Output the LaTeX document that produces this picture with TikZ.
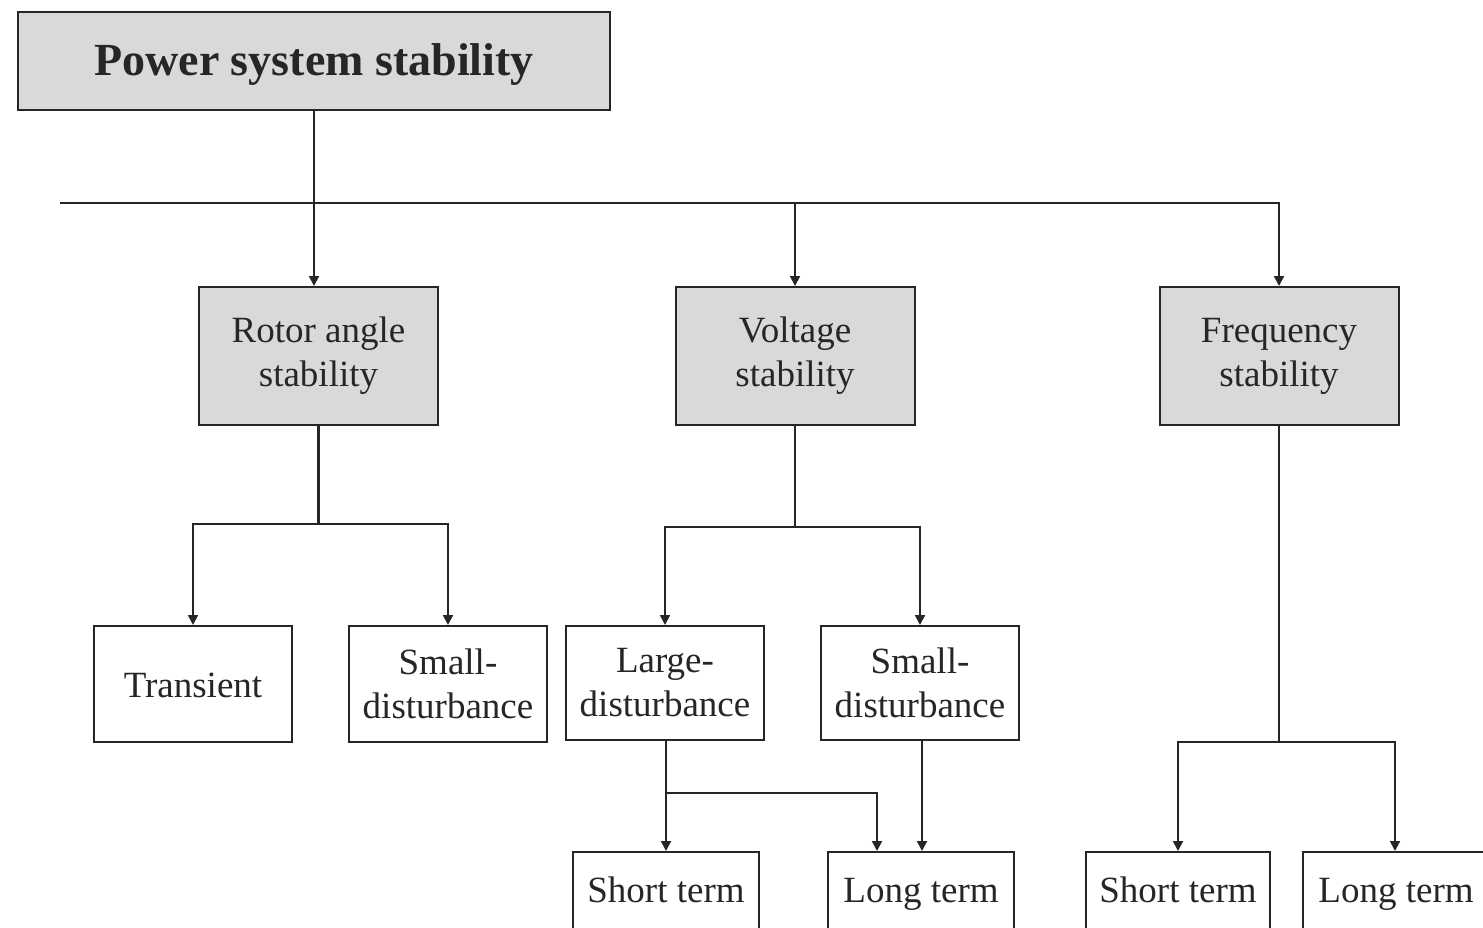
\documentclass[tikz,border=0pt]{standalone}
\usepackage{fontspec}
\setmainfont{Liberation Serif}
\usetikzlibrary{arrows.meta}
\definecolor{boxgray}{HTML}{D9D9D9}
\definecolor{ink}{HTML}{262626}
\tikzset{
  base/.style={draw=ink, line width=2pt, rectangle, align=center, inner sep=0pt,
    font=\fontsize{37}{44}\selectfont, text=ink},
  mainbox/.style={base, fill=boxgray},
  leafbox/.style={base, fill=white},
  oneline/.style={text height=26pt, text depth=9pt},
  link/.style={draw=ink, line width=2pt},
  arr/.style={link, -{Triangle[length=10pt,width=10pt]}}
}
\begin{document}
\begin{tikzpicture}[x=1pt, y=-1pt]
\useasboundingbox (0,0) rectangle (1483,928);
\clip (0,0) rectangle (1483,928);

% root
\node[mainbox, minimum width=592pt, minimum height=98pt, text height=40pt, text depth=10pt,
      font=\fontsize{46}{52}\selectfont\bfseries] (title) at (314,61) {Power system stability};

% three stability classes
\node[mainbox, minimum width=239pt, minimum height=138pt] (rotor) at (318.5,356) {Rotor angle\\stability};
\node[mainbox, minimum width=239pt, minimum height=138pt] (volt) at (795,356) {Voltage\\stability};
\node[mainbox, minimum width=239pt, minimum height=138pt] (freq) at (1279,356) {Frequency\\stability};

% second level
\node[leafbox, text height=31pt, text depth=5pt, minimum width=198pt, minimum height=116pt] (trans) at (193,684) {Transient};
\node[leafbox, minimum width=198pt, minimum height=116pt] (sd1) at (448,684) {Small-\\disturbance};
\node[leafbox, minimum width=198pt, minimum height=114pt] (ld) at (665,683) {Large-\\disturbance};
\node[leafbox, minimum width=198pt, minimum height=114pt] (sd2) at (920,683) {Small-\\disturbance};

% time frames
\node[leafbox, oneline, minimum width=186pt, minimum height=84pt] (st1) at (666,894) {Short term};
\node[leafbox, oneline, minimum width=186pt, minimum height=84pt] (lt1) at (921,894) {Long term};
\node[leafbox, oneline, minimum width=184pt, minimum height=84pt] (st2) at (1178,894) {Short term};
\node[leafbox, oneline, minimum width=186pt, minimum height=84pt] (lt2) at (1396,894) {Long term};

% bus from the root
\coordinate (busL) at (60,203);
\draw[arr] (title.south) -- (title.south |- rotor.north);
\draw[arr] (busL) -| (freq.north);
\draw[arr] (busL -| volt.north) -- (volt.north);

% rotor angle branches
\draw[link, line width=3pt] (rotor.south) -- ++(0,98) coordinate (rj);
\draw[arr] (rj) -| (trans.north);
\draw[arr] (rj) -| (sd1.north);

% voltage branches
\draw[link] (volt.south) -- ++(0,101) coordinate (vj);
\draw[arr] (vj) -| (ld.north);
\draw[arr] (vj) -| (sd2.north);

% voltage time frames
\draw[arr] (ld.south -| st1.north) -- (st1.north);
\coordinate (lj) at (666,793);
\draw[arr] (lj) -| ([xshift=-44pt]lt1.north);
\draw[arr] (sd2.south -| 922,0) -- (922,0 |- lt1.north);

% frequency branches
\draw[link] (freq.south) -- ++(0,316) coordinate (fj);
\draw[arr] (fj) -| (st2.north);
\draw[arr] (fj) -| ([xshift=-1pt]lt2.north);
\end{tikzpicture}
\end{document}
